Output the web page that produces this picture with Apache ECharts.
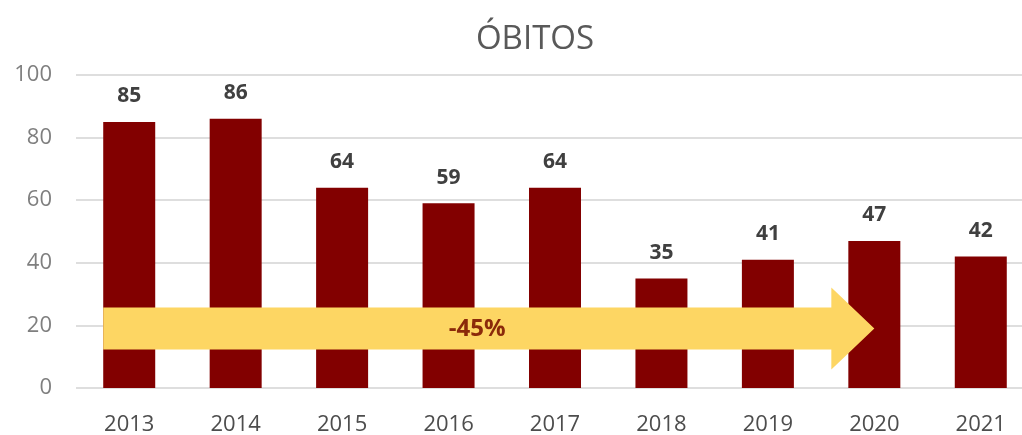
<!DOCTYPE html>
<html>
<head>
<meta charset="utf-8">
<script src="https://cdn.jsdelivr.net/npm/echarts@6/dist/echarts.min.js"></script>
<style>
html,body{margin:0;padding:0;background:#fff;}
#chart{width:1022px;height:435px;}
</style>
</head>
<body>
<div id="chart"></div>
<script>
var titleText = 'ÓBITOS';
var categories = ['2013','2014','2015','2016','2017','2018','2019','2020','2021'];
var obitos = [85, 86, 64, 59, 64, 35, 41, 47, 42];
var yTicks = [0, 20, 40, 60, 80, 100];
var arrowFrom = '2013';
var arrowTo = '2020';
var arrowLevel = 19;
var arrowLabel = '-45%';

var FONT = '"Open Sans", "Liberation Sans", sans-serif';
var chart = echarts.init(document.getElementById('chart'));

chart.setOption({
  backgroundColor: '#ffffff',
  animation: false,
  title: {
    text: titleText,
    left: 530, top: 18, textAlign: 'center',
    textStyle: { fontFamily: FONT, fontSize: 33, fontWeight: 'normal', color: '#595959' }
  },
  grid: { left: 76, right: -12, top: 75, bottom: 47, containLabel: false, outerBoundsMode: 'none' },
  xAxis: {
    type: 'category',
    data: categories,
    axisLine: { show: false },
    axisTick: { show: false },
    axisLabel: { fontFamily: FONT, fontSize: 22, color: '#4d4d4d', margin: 26 }
  },
  yAxis: {
    type: 'value',
    min: yTicks[0], max: yTicks[yTicks.length - 1], interval: yTicks[1] - yTicks[0],
    axisLine: { show: false },
    axisTick: { show: false },
    axisLabel: { fontFamily: FONT, fontSize: 22, color: '#7f7f7f', margin: 24 },
    splitLine: { lineStyle: { color: '#dedede', width: 2 } }
  },
  series: [
    {
      type: 'bar',
      data: obitos,
      barWidth: 52,
      itemStyle: { color: '#820000' },
      z: 2,
      label: {
        show: true, position: 'top', distance: 15,
        fontFamily: FONT, fontSize: 21, fontWeight: 'bold', color: '#404040'
      }
    },
    {
      type: 'custom',
      z: 5,
      silent: true,
      data: [[0, arrowLevel]],
      renderItem: function (params, api) {
        var a = api.coord([categories.indexOf(arrowFrom), arrowLevel]);
        var b = api.coord([categories.indexOf(arrowTo), arrowLevel]);
        var x0 = a[0] - 26;
        var xt = b[0];
        var xb = xt - 43;
        var yc = a[1];
        var sh = 21, hh = 41;
        return {
          type: 'group',
          children: [
            {
              type: 'polygon',
              shape: { points: [[x0, yc - sh], [xb, yc - sh], [xb, yc - hh], [xt, yc], [xb, yc + hh], [xb, yc + sh], [x0, yc + sh]] },
              style: { fill: '#fdd663' }
            },
            {
              type: 'text',
              style: {
                text: arrowLabel,
                x: x0 + (xt - x0) * 0.485, y: yc + 1,
                align: 'center', verticalAlign: 'middle',
                fill: '#8b2a0a',
                font: 'bold 24px ' + FONT
              }
            }
          ]
        };
      }
    }
  ]
});
</script>
</body>
</html>
